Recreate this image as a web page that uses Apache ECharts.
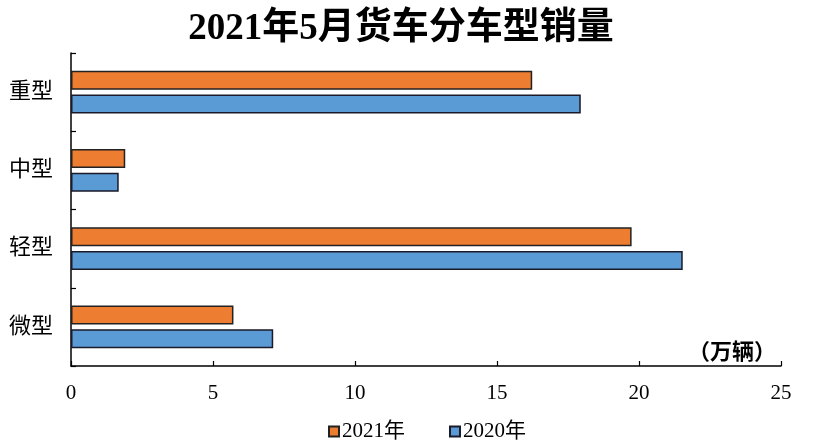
<!DOCTYPE html>
<html>
<head>
<meta charset="utf-8">
<script src="https://cdn.jsdelivr.net/npm/echarts@6/dist/echarts.min.js"></script>
<style>
html,body{margin:0;padding:0;background:#fff;}
#chart{width:813px;height:440px;}
</style>
</head>
<body>
<div id="chart"></div>
<script>
var titleText = '2021年5月货车分车型销量';
var categories = ['重型', '中型', '轻型', '微型'];
var seriesNames = ['2021年', '2020年'];
var values2021 = [16.24, 1.91, 19.74, 5.72];
var values2020 = [17.95, 1.68, 21.54, 7.12];
var xTicks = [0, 5, 10, 15, 20, 25];
var unitText = '（万辆）';

var serif = '"Liberation Serif", "Noto Sans CJK SC", serif';
var chart = echarts.init(document.getElementById('chart'));
chart.setOption({
  animation: false,
  backgroundColor: '#fff',
  title: {
    text: titleText,
    left: 396,
    textAlign: 'center',
    top: 6,
    textStyle: { fontFamily: serif, fontSize: 37, fontWeight: 'bold', color: '#000' }
  },
  legend: {
    data: seriesNames,
    left: 323,
    top: 416,
    itemWidth: 10,
    itemHeight: 10,
    itemGap: 44,
    icon: 'rect',
    textStyle: { fontFamily: serif, fontSize: 21, color: '#000', padding: [0, 0, 0, -2] }
  },
  grid: { left: 71, right: 32, top: 53, bottom: 74 },
  xAxis: {
    type: 'value',
    min: xTicks[0],
    max: xTicks[xTicks.length - 1],
    interval: 5,
    axisLine: { show: true, lineStyle: { color: '#000', width: 1.5 } },
    axisTick: { show: true, inside: true, length: 5, lineStyle: { color: '#000', width: 1.2 } },
    axisLabel: { margin: 17, fontFamily: serif, fontSize: 21, color: '#000' },
    splitLine: { show: false }
  },
  yAxis: {
    type: 'category',
    inverse: true,
    data: categories,
    axisLine: { show: true, lineStyle: { color: '#000', width: 1.5 } },
    axisTick: { show: true, inside: true, length: 5, lineStyle: { color: '#000', width: 1.2 } },
    axisLabel: { margin: 18, fontFamily: serif, fontSize: 22, color: '#000' }
  },
  graphic: [{
    type: 'text',
    left: 688,
    top: 340,
    style: { text: unitText, font: 'bold 22px "Noto Sans CJK SC"', fill: '#000' }
  }],
  series: [
    {
      name: seriesNames[0],
      type: 'bar',
      data: values2021,
      barWidth: 19,
      barGap: '26%',
      itemStyle: { color: '#ED7D31', borderColor: '#222', borderWidth: 1.5 }
    },
    {
      name: seriesNames[1],
      type: 'bar',
      data: values2020,
      barWidth: 19,
      barGap: '26%',
      itemStyle: { color: '#5B9BD5', borderColor: '#1a1a2a', borderWidth: 1.5 }
    }
  ]
});
</script>
</body>
</html>
